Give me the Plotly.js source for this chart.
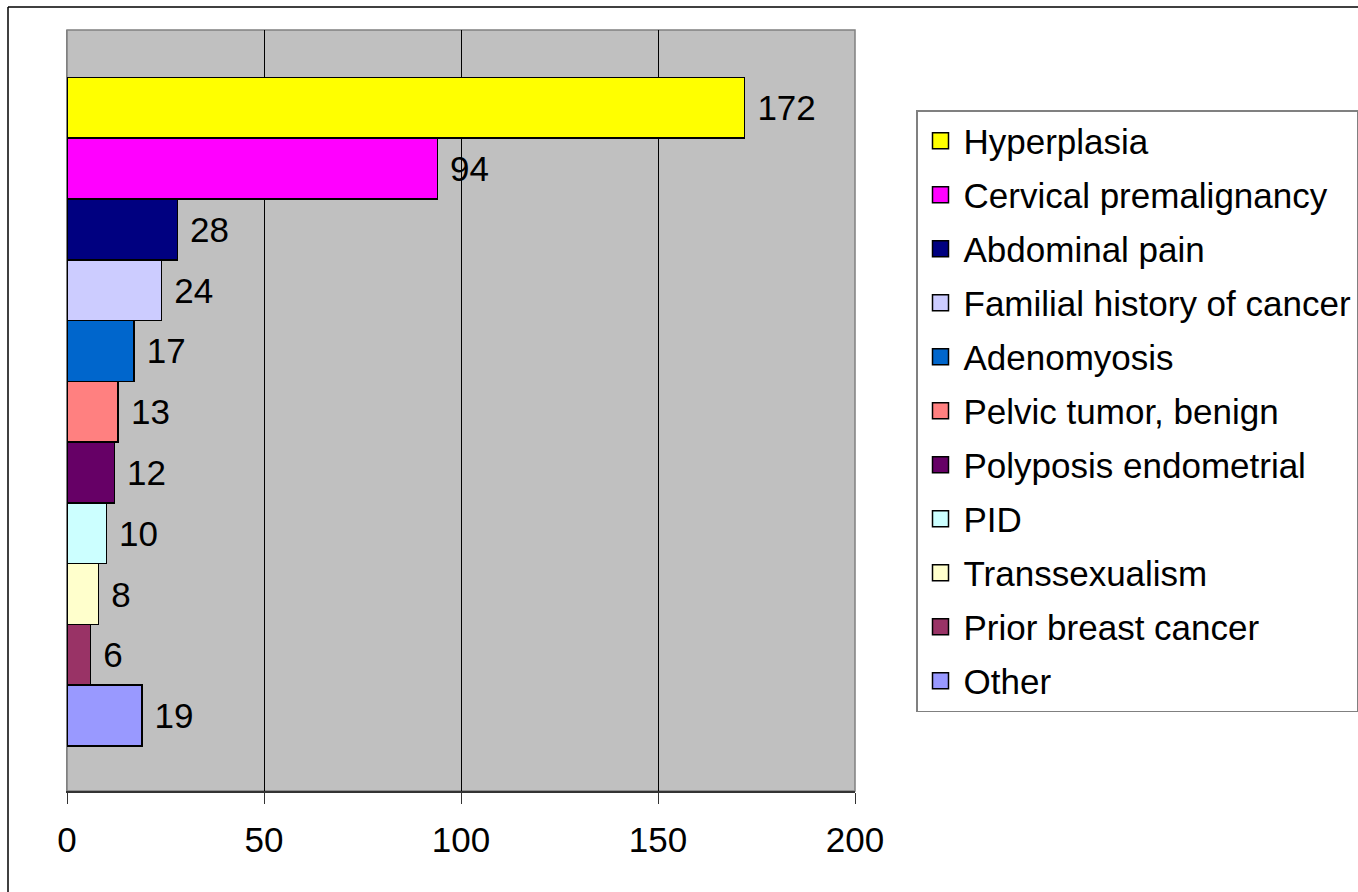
<!DOCTYPE html>
<html>
<head>
<meta charset="utf-8">
<script src="https://cdn.plot.ly/plotly-3.0.1.min.js"></script>
<style>html,body{margin:0;padding:0;background:#fff;overflow:hidden;}#chart{width:1358px;height:892px;}</style>
</head>
<body>
<div id="chart"></div>
<script>
const categories = ["Hyperplasia", "Cervical premalignancy", "Abdominal pain", "Familial history of cancer", "Adenomyosis", "Pelvic tumor, benign", "Polyposis endometrial", "PID", "Transsexualism", "Prior breast cancer", "Other"];
const values = [172, 94, 28, 24, 17, 13, 12, 10, 8, 6, 19];
const colors = ["#FFFF00", "#FF00FF", "#000080", "#CCCCFF", "#0066CC", "#FF8080", "#660066", "#CCFFFF", "#FFFFCC", "#993366", "#9999FF"];
const xTicks = [0, 50, 100, 150, 200];

const FONT = "Liberation Sans, Arial, sans-serif";
const FS = 35;
const traces = [];
categories.forEach((name, i) => {
  traces.push({
    type: "bar",
    orientation: "h",
    name: name,
    x: [values[i]],
    y: [name],
    marker: {color: colors[i], line: {color: "#000", width: 1.5}},
    texttemplate: "\u00a0%{x}",
    textposition: "outside",
    textfont: {family: FONT, size: FS, color: "#000"},
    constraintext: "none",
    cliponaxis: false,
    showlegend: false,
    hoverinfo: "x+name"
  });
});
categories.forEach((name, i) => {
  traces.push({
    type: "scatter",
    mode: "markers",
    name: name,
    legendgroup: "g" + i,
    x: [null],
    y: [null],
    marker: {symbol: "square", size: 16, color: colors[i], line: {color: "#000", width: 1.5}},
    showlegend: true,
    hoverinfo: "skip"
  });
});

const L = 67, R = 855, T = 30, B = 791, W = 1358, H = 892;
const pw = R - L, ph = B - T;
const bx = (8 - L) / pw, by = (B - 7) / ph;

const layout = {
  width: W, height: H,
  margin: {l: L, r: W - R, t: T, b: H - B, autoexpand: false},
  paper_bgcolor: "#fff",
  plot_bgcolor: "#C0C0C0",
  barmode: "stack",
  bargap: 0,
  font: {family: FONT, size: FS, color: "#000"},
  xaxis: {
    range: [0, 200],
    tickvals: xTicks,
    ticktext: xTicks.map(String),
    showgrid: true, gridcolor: "#000", gridwidth: 1,
    zeroline: false,
    showline: true, linecolor: "#333", linewidth: 1.5,
    ticks: "outside", ticklen: 11, tickcolor: "#333", tickwidth: 1,
    tickfont: {family: FONT, size: FS, color: "#000"},
    ticklabelstandoff: 6,
    fixedrange: true
  },
  yaxis: {
    type: "category",
    categoryorder: "array",
    categoryarray: categories,
    range: [11.24, -1.28],
    showticklabels: false,
    ticks: "",
    showgrid: false,
    zeroline: false,
    showline: true, linecolor: "#808080", linewidth: 1.5,
    fixedrange: true
  },
  legend: {
    x: (916 - L) / pw, y: (B - 110) / ph,
    xanchor: "left", yanchor: "top",
    bgcolor: "#fff", bordercolor: "#808080", borderwidth: 1.5,
    font: {family: FONT, size: FS, color: "#000"},
    traceorder: "grouped",
    tracegroupgap: 5.5,
    itemwidth: 36
  },
  shapes: [
    {type: "rect", xref: "paper", yref: "paper", x0: 0, x1: 1, y0: 0, y1: 1,
     line: {color: "#808080", width: 1.5}, fillcolor: "rgba(0,0,0,0)", layer: "below"},
    {type: "line", xref: "paper", yref: "paper", x0: bx, x1: 1.8, y0: by, y1: by,
     line: {color: "#000", width: 1.5}},
    {type: "line", xref: "paper", yref: "paper", x0: bx, x1: bx, y0: -0.2, y1: by,
     line: {color: "#000", width: 1.5}}
  ],
  showlegend: true
};

Plotly.newPlot("chart", traces, layout, {displayModeBar: false, staticPlot: true});
</script>
</body>
</html>
